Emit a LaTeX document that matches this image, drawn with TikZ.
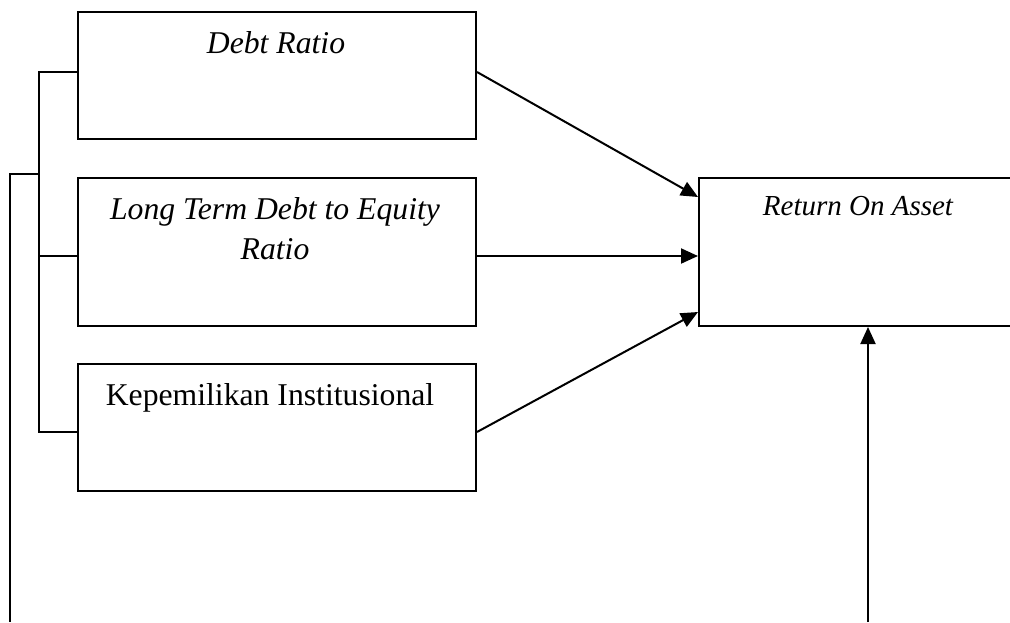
\documentclass[tikz,border=0pt]{standalone}
\usepackage{fontspec}
\setmainfont{Liberation Serif}
\usetikzlibrary{arrows.meta,calc}
\begin{document}
\begin{tikzpicture}[x=1pt,y=-1pt,
  box/.style={draw,line width=2pt,rectangle,anchor=north west,inner sep=0pt},
  lbl/.style={anchor=base,inner sep=0pt,align=center,font=\fontsize{31.7}{40}\selectfont},
  roalbl/.style={anchor=base,inner sep=0pt,font=\fontsize{29}{36}\selectfont\itshape},
  conn/.style={line width=2pt},
  arr/.style={line width=2pt,-{Triangle[length=17pt,width=15pt]}}]
\useasboundingbox (0,0) rectangle (1010,622);
% boxes
\node[box,minimum width=398pt,minimum height=127pt] (b1) at (77,11) {};
\node[box,minimum width=398pt,minimum height=148pt] (b2) at (77,177) {};
\node[box,minimum width=398pt,minimum height=127pt] (b3) at (77,363) {};
\node[box,minimum width=320pt,minimum height=148pt] (roa) at (698,177) {};
% labels
\node[lbl,font=\fontsize{31.7}{40}\selectfont\itshape] (t1) at (276,53) {Debt Ratio};
\node[lbl,font=\fontsize{31.7}{40}\selectfont\itshape,anchor=north] (t2) at (275,197) {Long Term Debt to Equity\\Ratio};
\node[lbl] (t3) at (270,405) {Kepemilikan Institusional};
\node[roalbl] (t4) at (858,215) {Return On Asset};
% arrows
\draw[arr] (b1.east |- 0,72) -- ([yshift=-20pt]roa.north west);
\draw[arr] (b2.east |- 0,256) -- (roa.west |- 0,256);
\draw[arr] (b3.east |- 0,432) -- ([yshift=15pt]roa.south west);
\coordinate (bot) at (868,622);
\draw[arr] (bot) -- (bot |- roa.south);
% bracket
\draw[conn] (b1.west |- 0,72) -- (39,72) -- (39,432) -- (b3.west |- 0,432);
\draw[conn] (39,256) -- (b2.west |- 0,256);
\coordinate (outer) at (10,622);
\draw[conn] (39,174) -- (10,174) -- (outer);
\end{tikzpicture}
\end{document}
